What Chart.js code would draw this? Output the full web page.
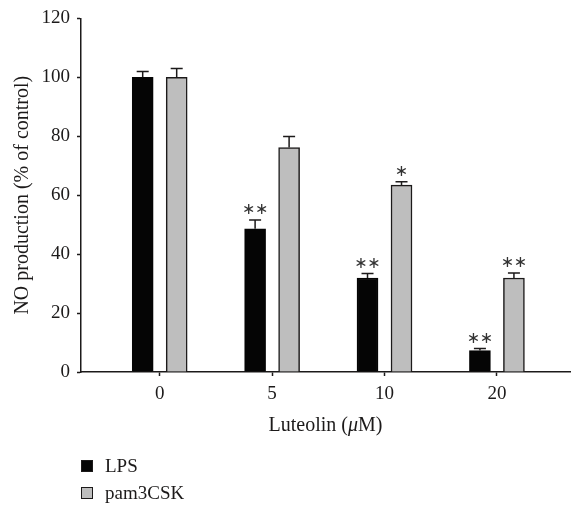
<!DOCTYPE html>
<html>
<head>
<meta charset="utf-8">
<script src="https://cdn.jsdelivr.net/npm/chart.js@4.4.1/dist/chart.umd.min.js"></script>
<style>
    body { margin: 0; background: #fff; }
    canvas { display: block; }
</style>
</head>
<body>
<canvas id="noChart" width="572" height="506"></canvas>
<script>
// Luteolin doses (x axis)
const doses = ['0', '5', '10', '20'];

// NO production, % of control
const lpsValues = [100, 48.6, 31.9, 7.3];
const lpsErrors = [2, 3, 1.5, 0.7];
const pamValues = [100, 76.2, 63.4, 31.9];
const pamErrors = [3, 3.7, 1.2, 1.7];

// significance marks
const lpsStars = ['', '**', '**', '**'];
const pamStars = ['', '', '*', '**'];

const yTicks = [0, 20, 40, 60, 80, 100, 120];

const serif = "'Liberation Serif', 'Times New Roman', serif";
const ink = '#1c1a1a';

function toPoints(values) {
    return values.map((v, i) => ({ x: i, y: v }));
}

// upper error bars + stars
const errorBars = {
    id: 'errorBars',
    afterDatasetsDraw(chart) {
        const ctx = chart.ctx;
        const yScale = chart.scales.y;
        chart.data.datasets.forEach((ds, di) => {
            chart.getDatasetMeta(di).data.forEach((bar, i) => {
                const top = yScale.getPixelForValue(ds.data[i].y + ds.errors[i]);
                ctx.save();
                ctx.strokeStyle = ink;
                ctx.lineWidth = 1.5;
                ctx.beginPath();
                ctx.moveTo(bar.x, bar.y);
                ctx.lineTo(bar.x, top);
                ctx.moveTo(bar.x - 6, top);
                ctx.lineTo(bar.x + 6, top);
                ctx.stroke();

                const n = ds.stars[i].length;
                ctx.fillStyle = '#333';
                ctx.font = "16px 'DejaVu Sans'";
                ctx.textAlign = 'center';
                ctx.textBaseline = 'middle';
                for (let k = 0; k < n; k++) {
                    const sx = bar.x + (k - (n - 1) / 2) * 13;
                    ctx.fillText('\u2217', sx, top - 10);
                }
                ctx.restore();
            });
        });
    }
};

// x title with italic mu, and the legend under the chart
const extras = {
    id: 'extras',
    afterDraw(chart) {
        const ctx = chart.ctx;
        const area = chart.chartArea;
        ctx.save();
        ctx.fillStyle = ink;
        ctx.textBaseline = 'alphabetic';

        const parts = [
            { t: 'Luteolin (', f: '20px ' + serif },
            { t: '\u03bc', f: 'italic 20px ' + serif },
            { t: 'M)', f: '20px ' + serif }
        ];
        let total = 0;
        parts.forEach(p => { ctx.font = p.f; p.w = ctx.measureText(p.t).width; total += p.w; });
        let x = (area.left + area.right) / 2 - total / 2;
        parts.forEach(p => {
            ctx.font = p.f;
            ctx.fillText(p.t, x, 430.5);
            x += p.w;
        });

        // legend
        chart.data.datasets.forEach((ds, i) => {
            const y = 460 + i * 27;
            ctx.fillStyle = ds.backgroundColor;
            ctx.fillRect(81.5, y + 0.5, 11, 11);
            ctx.strokeStyle = ink;
            ctx.lineWidth = 1;
            ctx.strokeRect(81.5, y + 0.5, 11, 11);
            ctx.fillStyle = ink;
            ctx.font = '19px ' + serif;
            ctx.fillText(ds.label, 105, y + 12);
        });
        ctx.restore();
    }
};

new Chart(document.getElementById('noChart'), {
    type: 'bar',
    data: {
        datasets: [
            {
                label: 'LPS',
                data: toPoints(lpsValues),
                errors: lpsErrors,
                stars: lpsStars,
                backgroundColor: '#050505',
                borderColor: '#050505',
                borderWidth: 1.5
            },
            {
                label: 'pam3CSK',
                data: toPoints(pamValues),
                errors: pamErrors,
                stars: pamStars,
                backgroundColor: '#bebebe',
                borderColor: ink,
                borderWidth: 1.5
            }
        ]
    },
    options: {
        responsive: false,
        animation: false,
        barThickness: 34,
        maxBarThickness: 21,
        layout: { padding: { top: 17, right: 2, bottom: 84, left: 0 } },
        plugins: {
            legend: { display: false },
            tooltip: { enabled: false }
        },
        scales: {
            x: {
                type: 'linear',
                offset: false,
                min: -0.7,
                max: 3.65,
                afterBuildTicks: scale => { scale.ticks = doses.map((d, i) => ({ value: i })); },
                afterFit: scale => { scale.height = 50; },
                ticks: {
                    callback: value => doses[value],
                    color: ink,
                    padding: 7,
                    font: { family: serif, size: 19 }
                },
                grid: { offset: false, drawOnChartArea: false, drawTicks: true, tickLength: 4, tickWidth: 1.5, tickColor: ink },
                border: { display: true, color: ink, width: 1.5 }
            },
            y: {
                min: 0,
                max: 120,
                afterBuildTicks: scale => { scale.ticks = yTicks.map(v => ({ value: v })); },
                afterFit: scale => { scale.width = 81; },
                ticks: {
                    color: ink,
                    padding: 7,
                    font: { family: serif, size: 19 }
                },
                title: {
                    display: true,
                    text: 'NO production (% of control)',
                    color: ink,
                    padding: { top: 11, bottom: 0 },
                    font: { family: serif, size: 20 }
                },
                grid: { drawOnChartArea: false, drawTicks: true, tickLength: 4, tickWidth: 1.5, tickColor: ink },
                border: { display: true, color: ink, width: 1.5 }
            }
        }
    },
    plugins: [errorBars, extras]
});
</script>
</body>
</html>
